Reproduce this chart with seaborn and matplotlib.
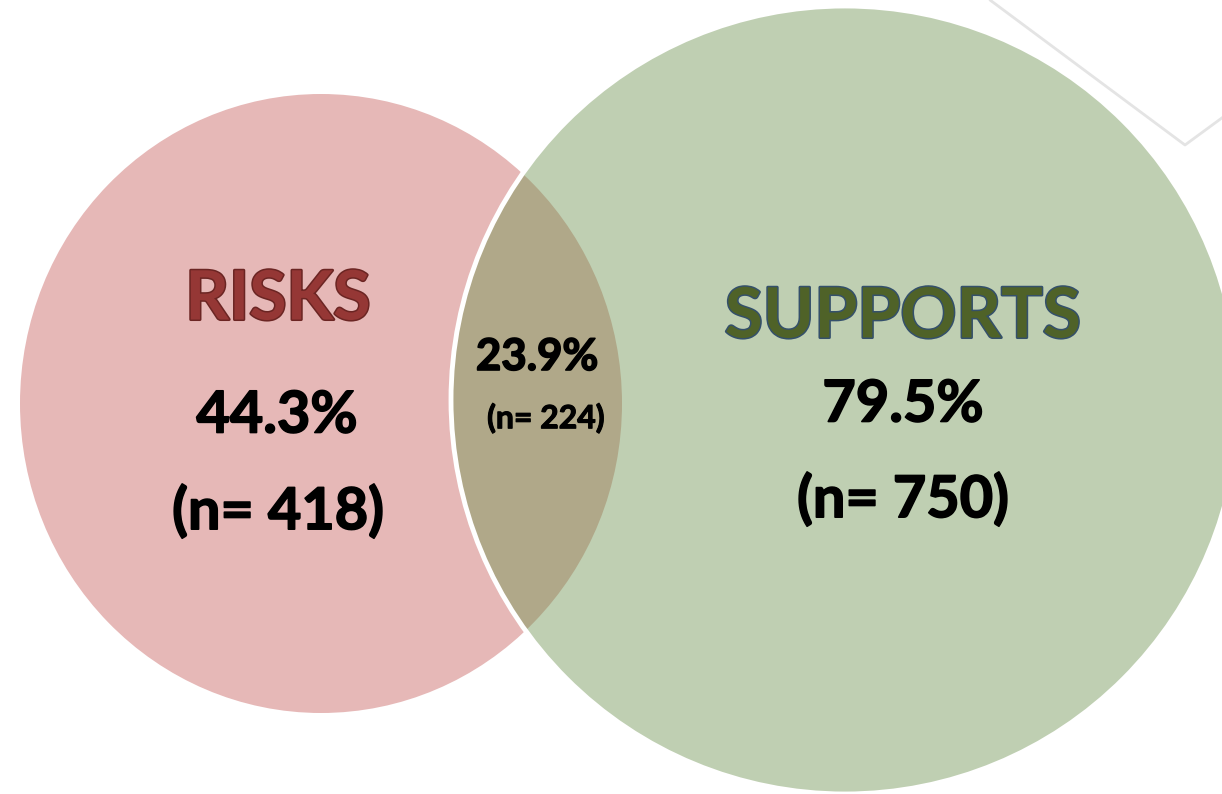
import matplotlib
matplotlib.use("Agg")
import matplotlib.pyplot as plt
import matplotlib.patheffects as pe
from matplotlib.patches import Circle, Ellipse
import seaborn as sns

# set data
set_names = ["RISKS", "SUPPORTS"]
set_pct = [44.3, 79.5]
set_n = [418, 750]
overlap_pct = 23.9
overlap_n = 224

# layout (pixel space of the 1222x794 picture)
left_center, left_w, left_h = (321, 403.5), 602, 619
right_center, right_r = (845, 400), 394
fills = ["#E6B8B7", "#BFCFB2"]
lens_color = "#B0A889"
name_colors = ["#953735", "#4F6228"]
name_edges = ["#6B2523", "#34506B"]

sns.set_theme(style="white")
plt.rcParams["font.family"] = ["Lato", "DejaVu Sans"]

fig = plt.figure(figsize=(12.22, 7.94), dpi=100)
ax = fig.add_axes([0, 0, 1, 1])
ax.set_xlim(0, 1222)
ax.set_ylim(794, 0)
ax.set_aspect("equal")
ax.axis("off")

# faint decorative frame in the corner
ax.plot([990, 1185, 1230], [0, 145, 112], color="#E4E4E4", lw=2, zorder=0)

left = Ellipse(left_center, left_w, left_h, facecolor=fills[0], edgecolor="none", zorder=1)
right = Circle(right_center, right_r, facecolor=fills[1], edgecolor="none", zorder=2)
ax.add_patch(left)
ax.add_patch(right)

lens = Ellipse(left_center, left_w, left_h, facecolor=lens_color, edgecolor="none", zorder=3)
ax.add_patch(lens)
lens.set_clip_path(right)

ax.add_patch(Circle(right_center, right_r, fill=False, edgecolor="white", lw=3.5, zorder=4))

# labels
bold = [pe.Stroke(linewidth=1.2, foreground="black"), pe.Normal()]
name_pos = [(278, 300), (903, 318)]
name_size = [49, 50]
pct_pos = [(277, 416), (903, 405)]
n_pos = [(278, 512), (903, 500)]
for i in range(2):
    ax.text(*name_pos[i], set_names[i], ha="center", va="center", fontsize=name_size[i],
            fontweight="bold", color=name_colors[i], zorder=5,
            path_effects=[pe.Stroke(linewidth=2.2, foreground=name_edges[i]), pe.Normal()])
    ax.text(*pct_pos[i], f"{set_pct[i]}%", ha="center", va="center", fontsize=41.5,
            fontweight="bold", color="black", zorder=5, path_effects=bold)
    ax.text(*n_pos[i], f"(n= {set_n[i]})", ha="center", va="center", fontsize=41.5,
            fontweight="bold", color="black", zorder=5, path_effects=bold)

ax.text(537, 357, f"{overlap_pct}%", ha="center", va="center", fontsize=31.5,
        fontweight="bold", color="black", zorder=5, path_effects=bold)
ax.text(546, 418, f"(n= {overlap_n})", ha="center", va="center", fontsize=23,
        fontweight="bold", color="black", zorder=5,
        path_effects=[pe.Stroke(linewidth=0.8, foreground="black"), pe.Normal()])

fig.savefig("out.png", dpi=100, facecolor="white")
